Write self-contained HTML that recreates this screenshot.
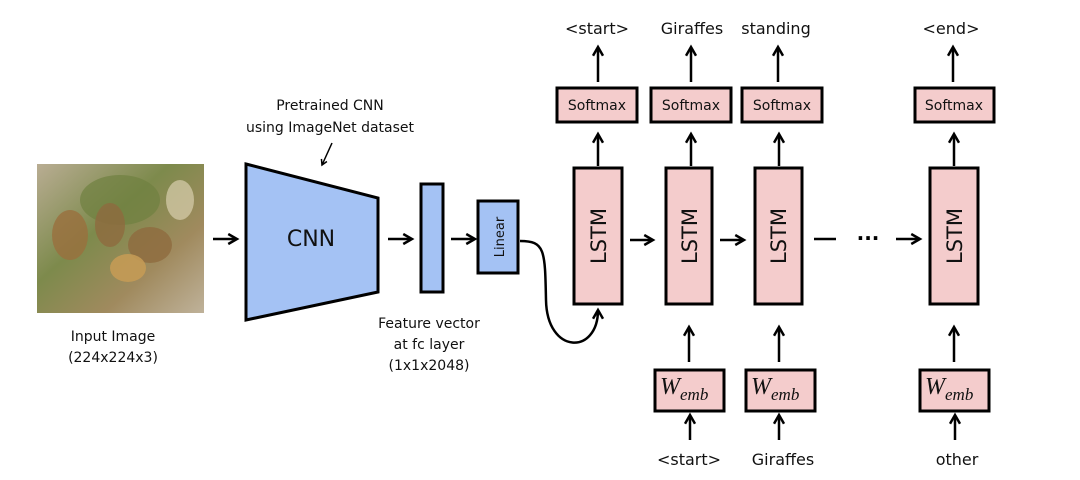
<!DOCTYPE html>
<html><head><style>
body{margin:0;background:#fff;}
svg{display:block;font-family:"DejaVu Sans","Liberation Sans",sans-serif;}
</style></head><body>
<svg width="1080" height="480" viewBox="0 0 1080 480" xmlns="http://www.w3.org/2000/svg">
<defs>
<marker id="a" viewBox="0 0 10 10" refX="8" refY="5" markerWidth="5" markerHeight="5" orient="auto"><path d="M1,1 L8,5 L1,9" fill="none" stroke="#000" stroke-width="2"/></marker>
<linearGradient id="g" x1="0" y1="0" x2="1" y2="1"><stop offset="0" stop-color="#b9ad93"/><stop offset="0.4" stop-color="#7d8a4c"/><stop offset="0.7" stop-color="#a08a5e"/><stop offset="1" stop-color="#bfb29a"/></linearGradient>
</defs>
<rect width="1080" height="480" fill="#fff"/>
<rect x="37" y="164" width="167" height="149" fill="url(#g)"/>
<ellipse cx="120" cy="200" rx="40" ry="25" fill="#6f8040" opacity="0.7"/>
<ellipse cx="70" cy="235" rx="18" ry="25" fill="#9a6f3d" opacity="0.8"/>
<ellipse cx="110" cy="225" rx="15" ry="22" fill="#8e6a3e" opacity="0.8"/>
<ellipse cx="150" cy="245" rx="22" ry="18" fill="#8e6a3e" opacity="0.8"/>
<ellipse cx="128" cy="268" rx="18" ry="14" fill="#c49a55" opacity="0.9"/>
<ellipse cx="180" cy="200" rx="14" ry="20" fill="#d8cfae" opacity="0.7"/>
<g font-size="14" text-anchor="middle" fill="#111">
<text x="113" y="341">Input Image</text>
<text x="113" y="362">(224x224x3)</text>
<text x="330" y="110">Pretrained CNN</text>
<text x="330" y="132">using ImageNet dataset</text>
<text x="429" y="328">Feature vector</text>
<text x="429" y="349">at fc layer</text>
<text x="429" y="370">(1x1x2048)</text>
</g>
<path d="M332,143 L322,165" stroke="#000" stroke-width="1.5" marker-end="url(#a)" fill="none"/>
<polygon points="246,164 378,198 378,292 246,320" fill="#a4c2f4" stroke="#000" stroke-width="3"/>
<text x="311" y="246" font-size="22" text-anchor="middle" fill="#111">CNN</text>
<rect x="421" y="184" width="22" height="108" fill="#a4c2f4" stroke="#000" stroke-width="3"/>
<rect x="478" y="201" width="40" height="72" fill="#a4c2f4" stroke="#000" stroke-width="3"/>
<text transform="translate(504,237) rotate(-90)" font-size="13" text-anchor="middle" fill="#111">Linear</text>
<g stroke="#000" stroke-width="2.5" fill="none" marker-end="url(#a)">
<line x1="213" y1="239" x2="237" y2="239"/>
<line x1="388" y1="239" x2="412" y2="239"/>
<line x1="451" y1="239" x2="475" y2="239"/>
<path d="M520,241 C545,241 545,250 546,300 C547,355 598,355 598,310"/>
<line x1="630" y1="240" x2="653" y2="240"/>
<line x1="720" y1="240" x2="744" y2="240"/>
<line x1="896" y1="239" x2="920" y2="239"/>
</g>
<line x1="814" y1="239" x2="836" y2="239" stroke="#000" stroke-width="2.5"/>
<text x="868" y="245" font-size="20" text-anchor="middle" font-weight="bold">···</text>
<g stroke="#000" stroke-width="3" fill="#f4cccc">
<rect x="574" y="168" width="48" height="136"/>
<rect x="666" y="168" width="46" height="136"/>
<rect x="755" y="168" width="47" height="136"/>
<rect x="930" y="168" width="48" height="136"/>
<rect x="557" y="88" width="80" height="34"/>
<rect x="651" y="88" width="80" height="34"/>
<rect x="742" y="88" width="80" height="34"/>
<rect x="915" y="88" width="79" height="34"/>
<rect x="655" y="370" width="69" height="41"/>
<rect x="746" y="370" width="69" height="41"/>
<rect x="920" y="370" width="69" height="41"/>
</g>
<g font-size="21" fill="#111" text-anchor="middle">
<text transform="translate(606,236) rotate(-90)">LSTM</text>
<text transform="translate(697,236) rotate(-90)">LSTM</text>
<text transform="translate(786,236) rotate(-90)">LSTM</text>
<text transform="translate(962,236) rotate(-90)">LSTM</text>
</g>
<g font-size="14" fill="#111" text-anchor="middle">
<text x="597" y="110">Softmax</text>
<text x="691" y="110">Softmax</text>
<text x="782" y="110">Softmax</text>
<text x="954" y="110">Softmax</text>
<text x="597" y="34" font-size="16">&lt;start&gt;</text>
<text x="692" y="34" font-size="16">Giraffes</text>
<text x="776" y="34" font-size="16">standing</text>
<text x="951" y="34" font-size="16">&lt;end&gt;</text>
<text x="689" y="465" font-size="16">&lt;start&gt;</text>
<text x="783" y="465" font-size="16">Giraffes</text>
<text x="957" y="465" font-size="16">other</text>
</g>
<g font-family="Liberation Serif,serif" font-style="italic" fill="#111">
<text x="660" y="394" font-size="24">W<tspan font-size="17" dy="6">emb</tspan></text>
<text x="751" y="394" font-size="24">W<tspan font-size="17" dy="6">emb</tspan></text>
<text x="925" y="394" font-size="24">W<tspan font-size="17" dy="6">emb</tspan></text>
</g>
<g stroke="#000" stroke-width="2.5" marker-end="url(#a)">
<line x1="598" y1="82" x2="598" y2="47"/>
<line x1="691" y1="82" x2="691" y2="47"/>
<line x1="778" y1="82" x2="778" y2="47"/>
<line x1="953" y1="82" x2="953" y2="47"/>
<line x1="598" y1="166" x2="598" y2="134"/>
<line x1="691" y1="166" x2="691" y2="134"/>
<line x1="779" y1="166" x2="779" y2="134"/>
<line x1="954" y1="166" x2="954" y2="134"/>
<line x1="689" y1="362" x2="689" y2="327"/>
<line x1="779" y1="362" x2="779" y2="327"/>
<line x1="954" y1="362" x2="954" y2="327"/>
<line x1="690" y1="440" x2="690" y2="415"/>
<line x1="779" y1="440" x2="779" y2="415"/>
<line x1="955" y1="440" x2="955" y2="415"/>
</g>
</svg>
</body></html>
